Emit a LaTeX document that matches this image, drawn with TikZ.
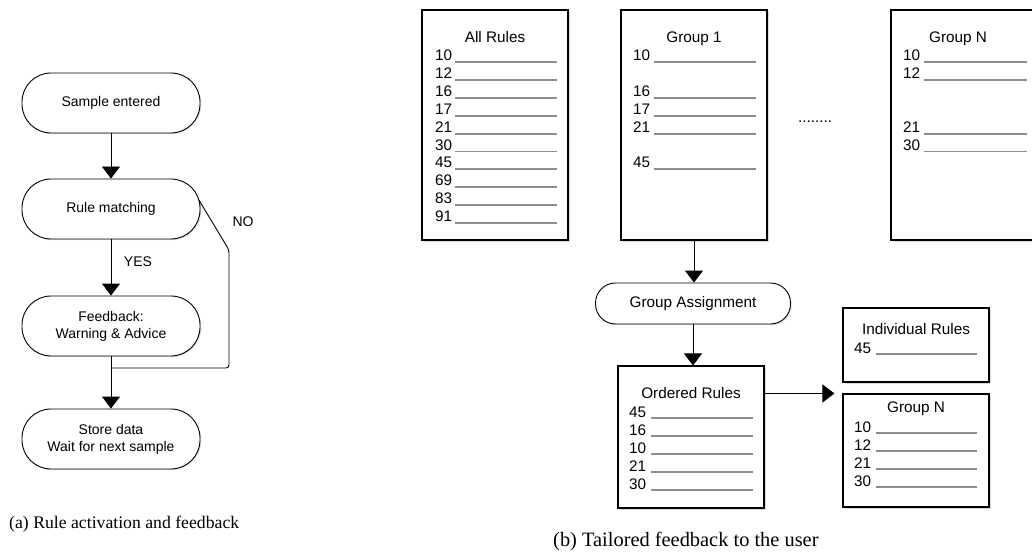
\documentclass[tikz,border=0pt]{standalone}
\usepackage{fontspec}
\setmainfont{Liberation Sans}
\newfontfamily\capfont{Liberation Serif}
\usetikzlibrary{arrows.meta, calc, shadows}

\begin{document}
\begin{tikzpicture}[
  x=1pt, y=-1pt,
  pill/.style={draw=black, fill=white, line width=0.9pt, rounded corners=29pt, minimum width=178pt, minimum height=60pt, align=center, font=\fontsize{14}{17}\selectfont, drop shadow={shadow xshift=1.2pt, shadow yshift=-1.2pt, opacity=0.25}},
  rulebox/.style={draw=black, fill=white, line width=1.1pt, minimum width=146pt, inner sep=0pt, drop shadow={shadow xshift=1.5pt, shadow yshift=-1.5pt, opacity=0.3}},
  boxtitle/.style={font=\fontsize{15.3}{17}\selectfont, anchor=base, inner sep=0pt},
  rulenum/.style={font=\fontsize{15.3}{17}\selectfont, anchor=base west, inner sep=0pt},
  ruleline/.style={draw=black!45, line width=1.1pt},
  wire/.style={draw=black, line width=0.9pt},
  flow/.style={wire, -{Triangle[width=18pt, length=12pt]}},
  caption/.style={font=\capfont\fontsize{17.7}{20}\selectfont, anchor=base west, inner sep=0pt}
]
\useasboundingbox (0,0) rectangle (1032,553);

% ---- (a) rule activation flow ----
\node[pill] (sample)   at (111,103) {Sample entered};
\node[pill] (match)    at (111,209) {Rule matching};
\node[pill] (feedback) at (111,326) {Feedback:\\Warning \& Advice};
\node[pill] (store)    at (111,439) {Store data\\Wait for next sample};

\draw[flow] (sample) -- (match);
\draw[flow] (match) -- (feedback);
\node[font=\fontsize{14}{17}\selectfont] (yes) at (138,262) {YES};

% NO branch skips the feedback and joins above the store step
\coordinate (merge) at (111,368);
\draw[wire, rounded corners=3pt] ($(match.east)+(-1.5,-9)$) -- (229,250) -- (229,368) -- (merge);
\node[font=\fontsize{14}{17}\selectfont] (no) at (243,222) {NO};
\draw[flow] (feedback) -- (store);

\node[caption] (capa) at (9,528) {(a) Rule activation and feedback};

% ---- (b) tailored feedback ----
\node[rulebox, minimum height=230pt] (allrules) at (495,125) {};
\node[rulebox, minimum height=230pt] (group1)   at (694,125) {};
\node[rulebox, minimum height=230pt] (groupN)   at (964,125) {};
\node[boxtitle] (allt) at (495,43) {All Rules};
\node[boxtitle] (g1t)  at (694,43) {Group 1};
\node[boxtitle] (gNt)  at (958,43) {Group N};
\node[font=\fontsize{15.3}{17}\selectfont] (dots) at (815,122) {........};

\foreach \n/\y in {10/61, 12/79, 16/97, 17/115, 21/133, 30/150.5, 45/168, 69/186, 83/204, 91/222} {
  \node[rulenum] (all\n) at (435,\y) {\n};
  \draw[ruleline] ([xshift=3pt, yshift=-1pt]all\n.base east) -- ++(102,0);
}
\foreach \n/\y in {10/61, 16/97, 17/115, 21/133, 45/168} {
  \node[rulenum] (g1r\n) at (633,\y) {\n};
  \draw[ruleline] ([xshift=4pt, yshift=-1pt]g1r\n.base east) -- ++(102,0);
}
\foreach \n/\y in {10/61, 12/79, 21/133, 30/150.5} {
  \node[rulenum] (gNr\n) at (903,\y) {\n};
  \draw[ruleline] ([xshift=4pt, yshift=-1pt]gNr\n.base east) -- ++(103,0);
}

\node[pill, rounded corners=20pt, minimum width=195pt, minimum height=41pt, font=\fontsize{15.3}{17}\selectfont] (assign) at (693,303.5) {Group Assignment};
\draw[flow] (group1.south) -- (group1.south |- assign.north);

\node[rulebox, minimum height=142pt] (ordered) at (691,437) {};
\node[boxtitle] (ordt) at (691,398) {Ordered Rules};
\foreach \n/\y in {45/417, 16/435, 10/453, 21/471, 30/489} {
  \node[rulenum] (ord\n) at (629,\y) {\n};
  \draw[ruleline] ([xshift=5pt, yshift=-1pt]ord\n.base east) -- ++(102,0);
}
\draw[flow] (assign) -- (ordered.north -| assign);

\node[rulebox, minimum height=74pt] (indiv) at (916,345) {};
\node[boxtitle] (indt) at (916,334) {Individual Rules};
\node[rulenum] (ind45) at (854,353) {45};
\draw[ruleline] ([xshift=5pt, yshift=-1pt]ind45.base east) -- ++(101,0);

\node[rulebox, minimum height=113pt] (selgroup) at (916,450.5) {};
\node[boxtitle] (selt) at (916,412) {Group N};
\foreach \n/\y in {10/432, 12/450, 21/468, 30/486} {
  \node[rulenum] (sel\n) at (854,\y) {\n};
  \draw[ruleline] ([xshift=5pt, yshift=-1pt]sel\n.base east) -- ++(101,0);
}
\draw[flow, shorten >=8pt] (ordered.east |- selgroup.north west) -- (selgroup.north west);

\node[caption, font=\capfont\fontsize{20.4}{23}\selectfont] (capb) at (553,546) {(b) Tailored feedback to the user};
\end{tikzpicture}
\end{document}
